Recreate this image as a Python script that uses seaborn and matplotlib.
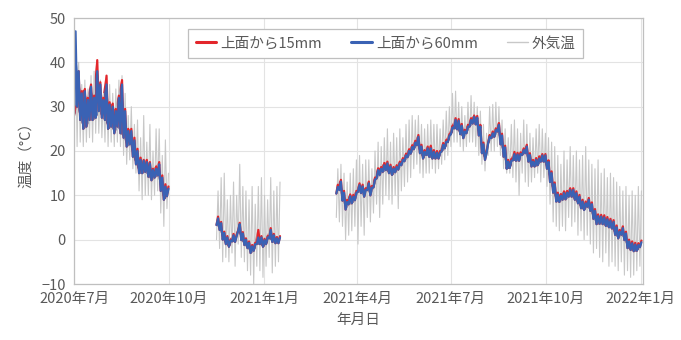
import numpy as np
import pandas as pd
import matplotlib
matplotlib.use("Agg")
import matplotlib.pyplot as plt
from matplotlib.lines import Line2D
import seaborn as sns

# Measurement periods (sample every 3 days; each sample = daily low then daily high)
seg_starts = ["2020-07-01", "2020-11-16", "2021-03-12"]
step_days = 3

# --- period 1: 2020-07-01 .. 2020-09-28
s60_hi_1 = [47, 38, 33, 33.5, 31.5, 34.5, 32, 38, 35, 31.5, 35, 30.5, 30, 29, 32, 35,
            29, 24.5, 24.5, 22.4, 20, 18, 17.8, 17.5, 17.2, 15.7, 16, 17, 14, 12, 11.5]
s60_lo_1 = [28, 30, 27, 25, 25.5, 27, 27, 27.5, 29, 27.5, 27, 25, 25.5, 24, 25.5, 24,
            23, 21, 21.5, 18.7, 17, 15, 15, 15.3, 14.2, 13.4, 14, 14.5, 11, 9, 9.8]
s15_hi_1 = [30, 38, 33.5, 34, 32, 35, 32.5, 40.5, 35.5, 32, 37, 31, 30.7, 29.5, 32.5, 36,
            29.5, 25, 25, 23, 20.5, 18.5, 18, 18, 17.5, 16, 16.5, 17.5, 14.5, 12.5, 12]
air_hi_1 = [45, 40, 35, 36, 34, 37, 38, 38, 36, 33, 37, 35, 33, 34, 36, 37,
            33, 28, 30, 26, 27, 23, 28, 22, 26, 20, 25, 25, 19, 22.5, 15]
air_lo_1 = [19, 21, 22, 21, 22, 23, 22, 24, 24, 23, 22, 21, 22, 21, 22, 21,
            19, 17, 18, 16, 15, 11, 9, 10, 10, 9, 10, 11, 6, 3, 7]

# --- period 2: 2020-11-16 .. 2021-01-15
s60_hi_2 = [4.8, 3.7, 1.5, 0.5, -0.2, 1, 0.8, 3.5, 1.4, 0, -0.7, -1.5, -1, 0.5, 0.5,
            -0.1, 0.5, 2.2, 1, 0.3, 0.5]
s60_lo_2 = [3.3, 2.2, 0, -1, -1.6, -0.4, -0.5, 2, -0.1, -1.2, -1.9, -3, -2.5, -1, -1,
            -1.6, -1, 0.3, -0.5, -0.8, -0.8]
s15_hi_2 = [5.2, 4.0, 1.8, 0.8, 0, 1.3, 1.1, 3.8, 1.7, 0.3, -0.4, -1.2, -0.7, 2.2, 0.8,
            0.2, 0.8, 2.6, 1.3, 0.6, 0.8]
air_hi_2 = [11, 14, 15, 9, 10, 13, 10, 17, 12, 11, 9, 12, 8, 12, 14, 10, 9, 14, 11, 12, 13]
air_lo_2 = [0, -2, -5, -4, -5, -3, -6, -1, -4, -5, -7, -8, -10, -6, -7, -8.5, -6, -4,
            -7.5, -6, -5]

# --- period 3: 2021-03-12 .. 2021-12-31
s60_hi_3 = [11.9, 13.1, 10.6, 8.5, 9.8, 9.7, 10.6, 12.3, 12, 11.2, 12.7, 11.7, 13.6, 15.7,
            16, 16.8, 17.2, 16.5, 16, 16.4, 17.2, 18, 19, 20, 20.9, 21.9, 23.2, 21, 19.8,
            20.6, 20.6, 19.8, 19.6, 19.6, 21.4, 22.1, 23.4, 25.3, 27, 26.8, 25.7, 24.4,
            25.5, 27, 27.7, 27.5, 25.5, 21.5, 19.5, 23.2, 24, 24.7, 25.9, 23.5, 20.8, 17.6,
            17.8, 19.3, 19.2, 19.3, 20.2, 21, 19.1, 17.6, 18, 18.3, 19, 19, 17.5, 15, 12.5,
            10.2, 9.9, 10.5, 10.6, 11.2, 11.2, 10.5, 9.7, 8.6, 8.2, 9, 8, 6.5, 5.3, 5.2, 5,
            4.6, 4.3, 4, 2.8, 1.8, 2.6, 1.4, -0.4, -0.8, -1.1, -1.2, -0.6]
s60_lo_3 = [10.4, 11.2, 8.8, 6.8, 8, 8.2, 8.9, 10.8, 10.5, 9.7, 11.2, 10, 11.8, 13.8,
            14.6, 15.3, 15.7, 15, 14.6, 15.2, 15.8, 16.8, 17.7, 18.6, 19.4, 20.4, 21.3,
            19.5, 18.3, 19.1, 18.7, 18.3, 18.3, 18.3, 19.9, 20.6, 22, 23.8, 25.1, 24.9,
            23.8, 22.9, 24, 25.5, 26.2, 26, 23.5, 19.5, 18, 21.7, 22.9, 23.2, 24.4, 21.5,
            18.7, 16, 16.2, 17.9, 17.8, 17.8, 19.1, 19.5, 17.6, 16.5, 16.5, 16.8, 17.6,
            17.6, 16, 13, 10.6, 8.6, 8.5, 9, 9.1, 9.7, 9.7, 9, 8.2, 7.1, 6.7, 7.4, 6.5,
            4.7, 3.5, 3.6, 3.5, 3.1, 2.8, 2.5, 1.1, 0.3, 1.1, -0.1, -1.9, -2.3, -2.6,
            -2.5, -1.7]
s15_hi_3 = [12.4, 13.5, 11, 9, 10.2, 10.1, 11, 12.7, 12.4, 11.6, 13.1, 12.1, 14, 16.1,
            16.4, 17.3, 17.6, 16.9, 16.4, 16.8, 17.6, 18.4, 19.4, 20.4, 21.3, 22.3, 23.6,
            21.4, 20.2, 21, 21.2, 20.2, 20, 20, 21.8, 22.5, 23.8, 25.7, 27.4, 27.2, 26.1,
            24.8, 25.9, 27.4, 28, 27.9, 25.9, 21.9, 19.9, 23.6, 24.4, 25.1, 26.3, 23.9,
            21.2, 18, 18.2, 19.8, 19.6, 19.7, 20.6, 21.4, 19.5, 18, 18.4, 18.8, 19.3, 19.3,
            17.9, 15.4, 12.9, 10.6, 10.3, 10.9, 11, 11.6, 11.6, 10.9, 10.1, 9, 8.6, 9.4,
            8.4, 6.9, 5.7, 5.6, 5.5, 5.1, 4.7, 4.4, 3.2, 2.2, 3, 1.8, 0, -0.4, -0.7, -0.8,
            -0.2]
air_hi_3 = [16, 17, 15, 13, 15, 16, 18, 19, 17, 18, 18, 16, 20, 22, 21, 23, 25, 22, 24,
            23, 25, 23, 26, 27, 28, 27, 28, 26, 25, 26, 27, 26, 26, 25, 27, 29, 30, 33,
            33.5, 31, 30, 28, 31, 32.5, 31, 30, 29, 26, 24, 30, 30.5, 31, 30, 27, 25, 23,
            26, 27, 25, 24, 27, 26, 24, 23, 25, 26, 25, 24, 23, 22, 21, 19, 17, 20, 18, 21,
            19, 20, 18, 19, 21, 18, 17, 16, 18, 15, 16, 14, 15, 14, 13, 12, 11, 12, 10,
            11, 10, 12, 11]
air_lo_3 = [5, 4, 3, 0, 1, 2, 3, -1, 3, 1, 5, 4, 6, 8, 5, 8, 10, 9, 8, 10, 7, 11, 12, 13,
            14, 16, 17, 15, 14, 15, 15, 16, 15, 16, 17, 18, 19, 21, 22, 22, 21, 20, 21, 22,
            22, 21, 19, 17, 15.5, 19, 20, 20, 21, 19, 16, 15, 15, 14, 13, 10, 15, 13, 12,
            13, 14, 15, 13, 14, 12, 8, 4, 3, 2, 3, 2, 5, 3, 4, 1, 2, 0, 1, -1, -3, -2, -4,
            -5, -3, -6, -5, -6, -7, -5, -8, -7, -8.5, -8, -7, -6]

series_names = ["上面から15mm", "上面から60mm", "外気温"]
tick_dates = ["2020-07-01", "2020-10-01", "2021-01-01", "2021-04-01",
              "2021-07-01", "2021-10-01", "2022-01-01"]

periods = [
    (s60_hi_1, s60_lo_1, s15_hi_1, air_hi_1, air_lo_1),
    (s60_hi_2, s60_lo_2, s15_hi_2, air_hi_2, air_lo_2),
    (s60_hi_3, s60_lo_3, s15_hi_3, air_hi_3, air_lo_3),
]


def zigzag(start, lo, hi):
    """Alternate daily low and high readings along the time axis."""
    dates = pd.date_range(start, periods=len(lo), freq=f"{step_days}D")
    t, v = [], []
    for d, a, b in zip(dates, lo, hi):
        t += [d, d + pd.Timedelta(hours=36)]
        v += [a, b]
    return t, v


rows, bands = [], []
for k, (start, (h60, l60, h15, ha, la)) in enumerate(zip(seg_starts, periods)):
    dates = pd.date_range(start, periods=len(l60), freq=f"{step_days}D")
    bands.append(pd.DataFrame({"日時": dates, "lo": l60, "hi15": h15, "hi60": h60}))
    for name, lo, hi in [(series_names[0], l60, h15),
                         (series_names[1], l60, h60),
                         (series_names[2], la, ha)]:
        t, v = zigzag(start, lo, hi)
        rows.append(pd.DataFrame({"日時": t, "温度": v, "系列": name, "区間": k}))
df = pd.concat(rows, ignore_index=True)

sns.set_theme(style="white")
plt.rcParams["font.family"] = ["Noto Sans CJK JP", "DejaVu Sans"]

txt = "#595959"
colors = {series_names[0]: "#E3262B", series_names[1]: "#3A62B4", series_names[2]: "#C8C8C8"}
widths = {series_names[0]: 1.6, series_names[1]: 1.6, series_names[2]: 0.8}

fig = plt.figure(figsize=(6.81, 3.40), dpi=100)
ax = fig.add_axes([74 / 681, 1 - 284 / 340, (643 - 74) / 681, (284 - 18) / 340])

# outdoor air first, then the two soil depths on top
sns.lineplot(data=df[df["系列"] == series_names[2]], x="日時", y="温度", units="区間",
             estimator=None, color=colors[series_names[2]], lw=widths[series_names[2]],
             ax=ax, legend=False)
for name, hicol in [(series_names[0], "hi15"), (series_names[1], "hi60")]:
    for b in bands:
        ax.fill_between(b["日時"], b["lo"], b[hicol], color=colors[name], lw=0)
    sns.lineplot(data=df[df["系列"] == name], x="日時", y="温度", units="区間",
                 estimator=None, color=colors[name], lw=widths[name], ax=ax,
                 legend=False, solid_joinstyle="round")

ax.set_ylim(-10, 50)
ax.set_yticks(np.arange(-10, 51, 10))
ax.set_xlim(pd.Timestamp("2020-07-01"), pd.Timestamp("2022-01-03"))
ticks = pd.to_datetime(tick_dates)
ax.set_xticks(ticks)
ax.set_xticklabels([f"{d.year}年{d.month}月" for d in ticks])

ax.grid(True, color="#E3E3E3", lw=0.8)
ax.set_axisbelow(True)
for s in ax.spines.values():
    s.set_color("#BFBFBF")
    s.set_linewidth(0.9)
ax.tick_params(length=0, labelsize=10.5, labelcolor=txt, pad=6)

ax.set_xlabel("年月日", fontsize=10.5, color=txt, labelpad=5)
ax.set_ylabel("温度（°C）", fontsize=10.5, color=txt, labelpad=6)

handles = [Line2D([], [], color=colors[n], lw=2.2 if n != series_names[2] else 1.0)
           for n in series_names]
leg = ax.legend(handles, series_names, loc="upper center", bbox_to_anchor=(0.548, 0.985),
                ncol=3, frameon=True, fancybox=False, framealpha=1, edgecolor="#BFBFBF",
                fontsize=10.5, handlelength=1.4, handletextpad=0.3, columnspacing=2.0,
                borderpad=0.5)
for t in leg.get_texts():
    t.set_color(txt)
leg.get_frame().set_linewidth(0.9)

fig.savefig("out.png", dpi=100)
